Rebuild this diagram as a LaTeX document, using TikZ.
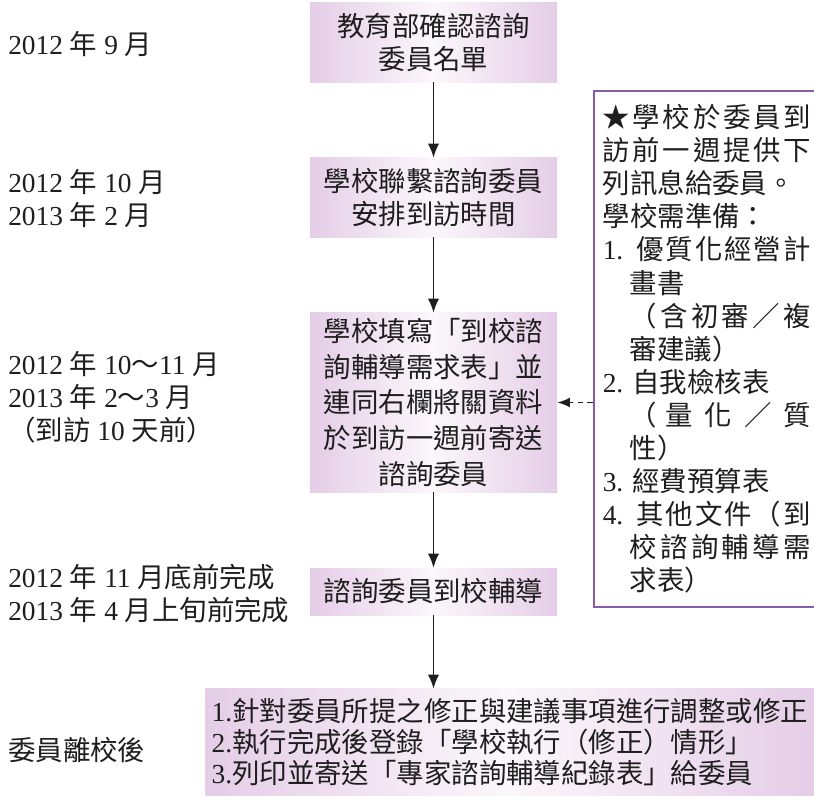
\documentclass[tikz,border=0pt]{standalone}
\usepackage{fontspec}
\setmainfont{Liberation Serif}
\newfontfamily\cjk{Noto Sans CJK TC}
\usetikzlibrary{arrows.meta}
\usetikzlibrary{positioning}

% han characters go to the CJK font, the rest stays in Times
\XeTeXinterchartokenstate=1
\newXeTeXintercharclass\cjkclass
\newcount\cjkidx
\newcommand\cjkrange[2]{%
  \cjkidx=#1\relax
  \loop
    \XeTeXcharclass\cjkidx=\cjkclass
  \ifnum\cjkidx<#2\relax
    \advance\cjkidx by 1
  \repeat}
\cjkrange{"3000}{"303F}
\cjkrange{"4E00}{"9FFF}
\cjkrange{"FF00}{"FFEF}
\XeTeXcharclass"2605=\cjkclass
\XeTeXinterchartoks 0 \cjkclass = {\cjk}
\XeTeXinterchartoks 4095 \cjkclass = {\cjk}
\XeTeXinterchartoks \cjkclass 0 = {\rmfamily}
\XeTeXinterchartoks \cjkclass 4095 = {\rmfamily}
\XeTeXinterchartoks \cjkclass \cjkclass = {\hskip 0pt plus 0.2em\relax}

\definecolor{boxpink}{RGB}{229,205,231}
\definecolor{boxlight}{RGB}{251,247,251}
\definecolor{notepurple}{RGB}{136,92,168}
\definecolor{ink}{RGB}{30,30,30}

\newcommand{\ind}{\hspace*{0.675cm}}

\tikzset{
  stepbox/.style={left color=boxpink, right color=boxpink, middle color=boxlight,
    minimum width=6.175cm, align=center, text=ink, inner sep=0pt,
    font=\fontsize{19.5}{24}\selectfont},
  datelabel/.style={anchor=west, align=left, inner sep=0pt, text=ink,
    font=\fontsize{19.5}{23.5}\selectfont},
  notebox/.style={draw=notepurple, line width=1.1pt, text width=5.2cm,
    align=justify, inner xsep=0.225cm, minimum height=12.9cm, text=ink,
    font=\fontsize{19.5}{23.5}\selectfont},
  flowarrow/.style={draw=ink, line width=1.2pt, -{Latex[length=10pt,width=8pt]}},
  notearrow/.style={draw=ink, line width=1.1pt, dash pattern=on 4pt off 3pt,
    -{Latex[length=9pt,width=7pt]}}
}

\begin{document}
\begin{tikzpicture}[x=0.025cm, y=-0.025cm]
  \useasboundingbox (0,0) rectangle (814,801);
  \clip (0,0) rectangle (814,801);

  % time column
  \node[datelabel] (d1) at (8,44) {2012 年 9 月};
  \node[datelabel] (d2) at (8,198.5) {2012 年 10 月\\2013 年 2 月};
  \node[datelabel] (d3) at (8,397) {2012 年 10～11 月\\2013 年 2～3 月\\（到訪 10 天前）};
  \node[datelabel] (d4) at (8,593.5) {2012 年 11 月底前完成\\2013 年 4 月上旬前完成};
  \node[datelabel] (d5) at (8,750) {委員離校後};

  % flow
  \node[stepbox, minimum height=1.975cm] (confirm) at (433.5,42.5) {教育部確認諮詢\\委員名單};
  \node[stepbox, minimum height=1.975cm] (contact) at (433.5,197.5) {學校聯繫諮詢委員\\安排到訪時間};
  \node[stepbox, minimum height=4.475cm, font=\fontsize{19.5}{25.5}\selectfont] (fill) at (433.5,402.5)
    {學校填寫「到校諮\\詢輔導需求表」並\\連同右欄將關資料\\於到訪一週前寄送\\諮詢委員};
  \node[stepbox, minimum height=1.175cm] (visit) at (433.5,591.5) {諮詢委員到校輔導};
  \node[stepbox, anchor=west, minimum width=15.225cm, minimum height=2.65cm, align=left,
    font=\fontsize{19.5}{22}\selectfont] (after) at (205,742)
    {1.針對委員所提之修正與建議事項進行調整或修正\\2.執行完成後登錄「學校執行（修正）情形」\\3.列印並寄送「專家諮詢輔導紀錄表」給委員};

  % side note
  \node[notebox, anchor=north west] (notes) at (593,90)
    {★學校於委員到\linebreak
     訪前一週提供下\linebreak
     列訊息給委員。\\
     學校需準備：\\
     1. 優質化經營計\linebreak
     \ind 畫書\\
     \ind（含初審／複\linebreak
     \ind 審建議）\\
     2. 自我檢核表\\
     \ind（量 化 ／ 質\linebreak
     \ind 性）\\
     3. 經費預算表\\
     4. 其他文件（到\linebreak
     \ind 校諮詢輔導需\linebreak
     \ind 求表）};

  \draw[flowarrow] (confirm) -- (contact);
  \draw[flowarrow] (contact) -- (fill);
  \draw[flowarrow] (fill) -- (visit);
  \draw[flowarrow] (visit.south) -- (visit.south |- after.north);
  \draw[notearrow] (notes.west |- fill.east) -- (fill.east);
\end{tikzpicture}
\end{document}
